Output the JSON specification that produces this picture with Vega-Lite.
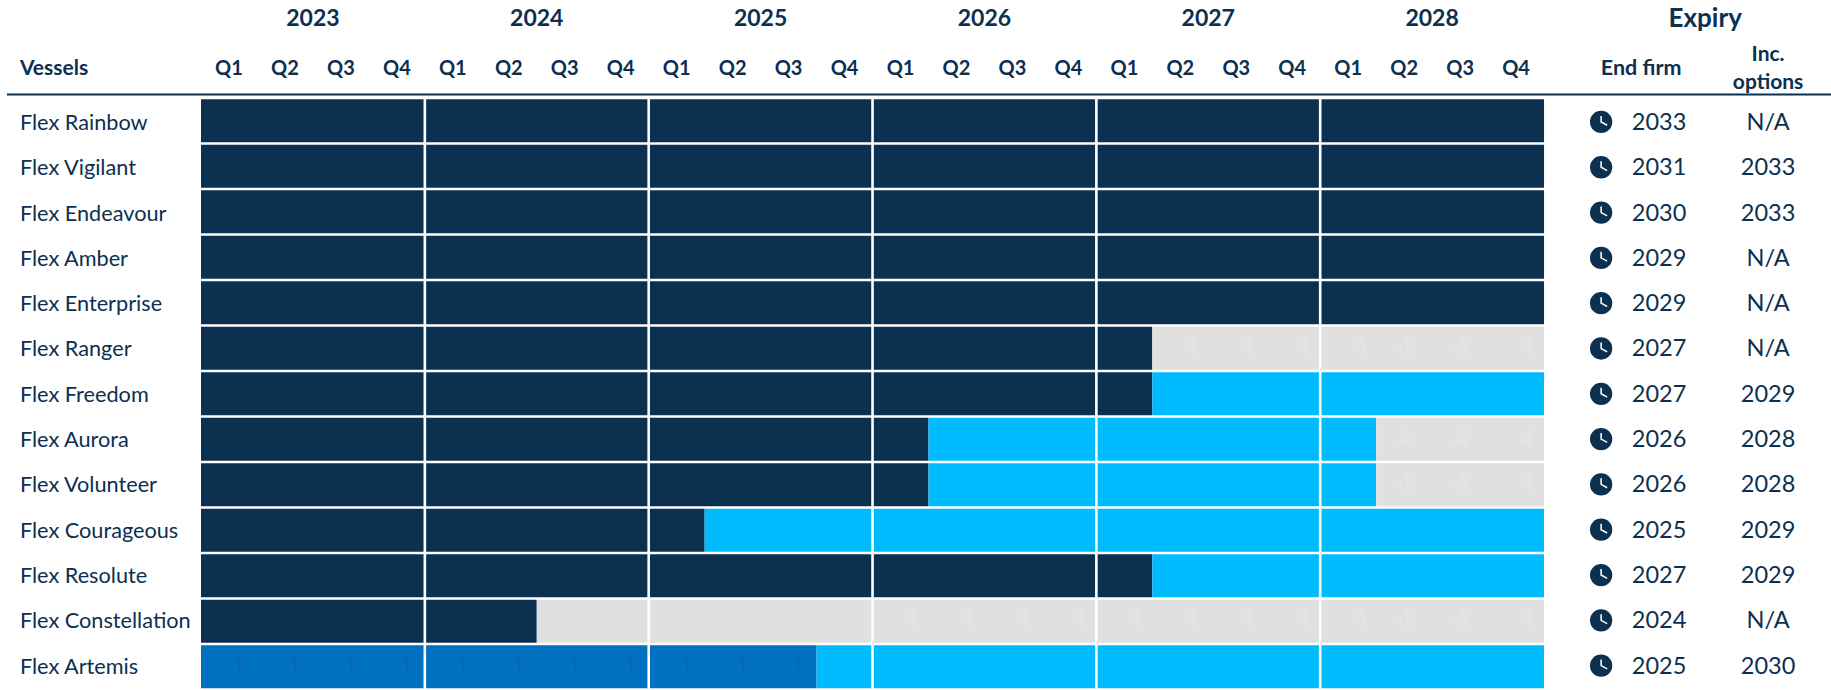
{"$schema":"https://vega.github.io/schema/vega-lite/v6.json","width":1831,"height":690,"autosize":{"type":"none"},"padding":0,"background":"white","config":{"view":{"stroke":null},"text":{"font":"Lato"}},"datasets":{"segments":[{"vessel":"Flex Rainbow","start":2023,"end":2029,"status":"firm"},{"vessel":"Flex Vigilant","start":2023,"end":2029,"status":"firm"},{"vessel":"Flex Endeavour","start":2023,"end":2029,"status":"firm"},{"vessel":"Flex Amber","start":2023,"end":2029,"status":"firm"},{"vessel":"Flex Enterprise","start":2023,"end":2029,"status":"firm"},{"vessel":"Flex Ranger","start":2023,"end":2027.25,"status":"firm"},{"vessel":"Flex Ranger","start":2027.25,"end":2029,"status":"open"},{"vessel":"Flex Freedom","start":2023,"end":2027.25,"status":"firm"},{"vessel":"Flex Freedom","start":2027.25,"end":2029,"status":"option"},{"vessel":"Flex Aurora","start":2023,"end":2026.25,"status":"firm"},{"vessel":"Flex Aurora","start":2026.25,"end":2028.25,"status":"option"},{"vessel":"Flex Aurora","start":2028.25,"end":2029,"status":"open"},{"vessel":"Flex Volunteer","start":2023,"end":2026.25,"status":"firm"},{"vessel":"Flex Volunteer","start":2026.25,"end":2028.25,"status":"option"},{"vessel":"Flex Volunteer","start":2028.25,"end":2029,"status":"open"},{"vessel":"Flex Courageous","start":2023,"end":2025.25,"status":"firm"},{"vessel":"Flex Courageous","start":2025.25,"end":2029,"status":"option"},{"vessel":"Flex Resolute","start":2023,"end":2027.25,"status":"firm"},{"vessel":"Flex Resolute","start":2027.25,"end":2029,"status":"option"},{"vessel":"Flex Constellation","start":2023,"end":2024.5,"status":"firm"},{"vessel":"Flex Constellation","start":2024.5,"end":2029,"status":"open"},{"vessel":"Flex Artemis","start":2023,"end":2025.75,"status":"other"},{"vessel":"Flex Artemis","start":2025.75,"end":2029,"status":"option"}],"expiry":[{"vessel":"Flex Rainbow","endFirm":"2033","incOptions":"N/A"},{"vessel":"Flex Vigilant","endFirm":"2031","incOptions":"2033"},{"vessel":"Flex Endeavour","endFirm":"2030","incOptions":"2033"},{"vessel":"Flex Amber","endFirm":"2029","incOptions":"N/A"},{"vessel":"Flex Enterprise","endFirm":"2029","incOptions":"N/A"},{"vessel":"Flex Ranger","endFirm":"2027","incOptions":"N/A"},{"vessel":"Flex Freedom","endFirm":"2027","incOptions":"2029"},{"vessel":"Flex Aurora","endFirm":"2026","incOptions":"2028"},{"vessel":"Flex Volunteer","endFirm":"2026","incOptions":"2028"},{"vessel":"Flex Courageous","endFirm":"2025","incOptions":"2029"},{"vessel":"Flex Resolute","endFirm":"2027","incOptions":"2029"},{"vessel":"Flex Constellation","endFirm":"2024","incOptions":"N/A"},{"vessel":"Flex Artemis","endFirm":"2025","incOptions":"2030"}],"digits":[{"vessel":"Flex Ranger","at":2027.42,"n":"4"},{"vessel":"Flex Ranger","at":2027.67,"n":"4"},{"vessel":"Flex Ranger","at":2027.92,"n":"4"},{"vessel":"Flex Ranger","at":2028.178,"n":"4"},{"vessel":"Flex Ranger","at":2028.379,"n":"4"},{"vessel":"Flex Ranger","at":2028.63,"n":"4"},{"vessel":"Flex Ranger","at":2028.924,"n":"4"},{"vessel":"Flex Aurora","at":2028.379,"n":"4"},{"vessel":"Flex Aurora","at":2028.63,"n":"4"},{"vessel":"Flex Aurora","at":2028.924,"n":"4"},{"vessel":"Flex Volunteer","at":2028.379,"n":"4"},{"vessel":"Flex Volunteer","at":2028.63,"n":"4"},{"vessel":"Flex Volunteer","at":2028.924,"n":"4"},{"vessel":"Flex Constellation","at":2026.172,"n":"4"},{"vessel":"Flex Constellation","at":2026.42,"n":"4"},{"vessel":"Flex Constellation","at":2026.67,"n":"4"},{"vessel":"Flex Constellation","at":2026.92,"n":"4"},{"vessel":"Flex Constellation","at":2027.17,"n":"4"},{"vessel":"Flex Constellation","at":2027.42,"n":"4"},{"vessel":"Flex Constellation","at":2027.67,"n":"4"},{"vessel":"Flex Constellation","at":2027.92,"n":"4"},{"vessel":"Flex Constellation","at":2028.178,"n":"4"},{"vessel":"Flex Constellation","at":2028.379,"n":"4"},{"vessel":"Flex Constellation","at":2028.63,"n":"4"},{"vessel":"Flex Constellation","at":2028.924,"n":"4"},{"vessel":"Flex Artemis","at":2023.17,"n":"1"},{"vessel":"Flex Artemis","at":2023.42,"n":"1"},{"vessel":"Flex Artemis","at":2023.67,"n":"1"},{"vessel":"Flex Artemis","at":2023.92,"n":"1"},{"vessel":"Flex Artemis","at":2024.17,"n":"1"},{"vessel":"Flex Artemis","at":2024.42,"n":"1"},{"vessel":"Flex Artemis","at":2024.67,"n":"1"},{"vessel":"Flex Artemis","at":2024.92,"n":"1"},{"vessel":"Flex Artemis","at":2025.17,"n":"1"},{"vessel":"Flex Artemis","at":2025.42,"n":"1"},{"vessel":"Flex Artemis","at":2025.67,"n":"1"}],"heads":[{"label":"2023","at":2023.5,"row":"year"},{"label":"2024","at":2024.5,"row":"year"},{"label":"2025","at":2025.5,"row":"year"},{"label":"2026","at":2026.5,"row":"year"},{"label":"2027","at":2027.5,"row":"year"},{"label":"2028","at":2028.5,"row":"year"},{"label":"Expiry","at":2029.72,"row":"year"},{"label":"Q1","at":2023.125,"row":"col"},{"label":"Q2","at":2023.375,"row":"col"},{"label":"Q3","at":2023.625,"row":"col"},{"label":"Q4","at":2023.875,"row":"col"},{"label":"Q1","at":2024.125,"row":"col"},{"label":"Q2","at":2024.375,"row":"col"},{"label":"Q3","at":2024.625,"row":"col"},{"label":"Q4","at":2024.875,"row":"col"},{"label":"Q1","at":2025.125,"row":"col"},{"label":"Q2","at":2025.375,"row":"col"},{"label":"Q3","at":2025.625,"row":"col"},{"label":"Q4","at":2025.875,"row":"col"},{"label":"Q1","at":2026.125,"row":"col"},{"label":"Q2","at":2026.375,"row":"col"},{"label":"Q3","at":2026.625,"row":"col"},{"label":"Q4","at":2026.875,"row":"col"},{"label":"Q1","at":2027.125,"row":"col"},{"label":"Q2","at":2027.375,"row":"col"},{"label":"Q3","at":2027.625,"row":"col"},{"label":"Q4","at":2027.875,"row":"col"},{"label":"Q1","at":2028.125,"row":"col"},{"label":"Q2","at":2028.375,"row":"col"},{"label":"Q3","at":2028.625,"row":"col"},{"label":"Q4","at":2028.875,"row":"col"},{"label":"End firm","at":2029.434,"row":"col"},{"label":"Inc.\noptions","at":2030.001,"row":"col"},{"label":"Vessels","at":2022.191,"row":"col"}],"years":[{"year":2024},{"year":2025},{"year":2026},{"year":2027},{"year":2028}]},"resolve":{"scale":{"y":"independent","color":"independent"}},"layer":[{"data":{"name":"segments"},"mark":{"type":"bar"},"encoding":{"x":{"field":"start","type":"quantitative","axis":null,"scale":{"domain":[2022.102,2030.282],"nice":false,"zero":false}},"x2":{"field":"end"},"y":{"field":"vessel","type":"nominal","axis":null,"scale":{"domain":["Flex Rainbow","Flex Vigilant","Flex Endeavour","Flex Amber","Flex Enterprise","Flex Ranger","Flex Freedom","Flex Aurora","Flex Volunteer","Flex Courageous","Flex Resolute","Flex Constellation","Flex Artemis"],"range":[99.3,688.3],"paddingInner":0.056,"paddingOuter":0}},"color":{"field":"status","type":"nominal","legend":null,"scale":{"domain":["firm","option","open","other"],"range":["#0c3050","#00bcff","#e0e0e0","#0070c0"]}}}},{"data":{"name":"digits"},"mark":{"type":"text","fontSize":26,"font":"Lato","fontWeight":300},"encoding":{"x":{"field":"at","type":"quantitative"},"y":{"field":"vessel","type":"nominal","axis":null,"scale":{"domain":["Flex Rainbow","Flex Vigilant","Flex Endeavour","Flex Amber","Flex Enterprise","Flex Ranger","Flex Freedom","Flex Aurora","Flex Volunteer","Flex Courageous","Flex Resolute","Flex Constellation","Flex Artemis"],"range":[99.3,688.3],"paddingInner":0.056,"paddingOuter":0}},"text":{"field":"n"},"color":{"field":"n","type":"nominal","legend":null,"scale":{"domain":["4","1"],"range":["#e7e7e7","#1266ac"]}}}},{"data":{"name":"years"},"mark":{"type":"rule","color":"white","strokeWidth":2.6},"encoding":{"x":{"field":"year","type":"quantitative"}}},{"data":{"name":"expiry"},"layer":[{"mark":{"type":"text","fontSize":21.7,"align":"left","color":"#0c3050","dy":1},"encoding":{"x":{"datum":2022.191,"type":"quantitative"},"y":{"field":"vessel","type":"nominal","axis":null,"scale":{"domain":["Flex Rainbow","Flex Vigilant","Flex Endeavour","Flex Amber","Flex Enterprise","Flex Ranger","Flex Freedom","Flex Aurora","Flex Volunteer","Flex Courageous","Flex Resolute","Flex Constellation","Flex Artemis"],"range":[99.3,688.3],"paddingInner":0.056,"paddingOuter":0}},"text":{"field":"vessel"}}},{"mark":{"type":"text","fontSize":23.5,"color":"#0c3050","dy":1},"encoding":{"x":{"datum":2029.514,"type":"quantitative"},"y":{"field":"vessel","type":"nominal","axis":null,"scale":{"domain":["Flex Rainbow","Flex Vigilant","Flex Endeavour","Flex Amber","Flex Enterprise","Flex Ranger","Flex Freedom","Flex Aurora","Flex Volunteer","Flex Courageous","Flex Resolute","Flex Constellation","Flex Artemis"],"range":[99.3,688.3],"paddingInner":0.056,"paddingOuter":0}},"text":{"field":"endFirm"}}},{"mark":{"type":"text","fontSize":23.5,"color":"#0c3050","dy":1},"encoding":{"x":{"datum":2030.001,"type":"quantitative"},"y":{"field":"vessel","type":"nominal","axis":null,"scale":{"domain":["Flex Rainbow","Flex Vigilant","Flex Endeavour","Flex Amber","Flex Enterprise","Flex Ranger","Flex Freedom","Flex Aurora","Flex Volunteer","Flex Courageous","Flex Resolute","Flex Constellation","Flex Artemis"],"range":[99.3,688.3],"paddingInner":0.056,"paddingOuter":0}},"text":{"field":"incOptions"}}},{"mark":{"type":"point","filled":true,"shape":"circle","size":497,"color":"#0c3050","opacity":1},"encoding":{"x":{"datum":2029.255,"type":"quantitative"},"y":{"field":"vessel","type":"nominal","axis":null,"scale":{"domain":["Flex Rainbow","Flex Vigilant","Flex Endeavour","Flex Amber","Flex Enterprise","Flex Ranger","Flex Freedom","Flex Aurora","Flex Volunteer","Flex Courageous","Flex Resolute","Flex Constellation","Flex Artemis"],"range":[99.3,688.3],"paddingInner":0.056,"paddingOuter":0}}}},{"mark":{"type":"point","filled":true,"shape":"M -0.07 -0.55 L 0.07 -0.55 L 0.07 -0.04 L 0.58 0.24 L 0.52 0.36 L -0.07 0.04 Z","size":484,"color":"white","opacity":1},"encoding":{"x":{"datum":2029.255,"type":"quantitative"},"y":{"field":"vessel","type":"nominal","axis":null,"scale":{"domain":["Flex Rainbow","Flex Vigilant","Flex Endeavour","Flex Amber","Flex Enterprise","Flex Ranger","Flex Freedom","Flex Aurora","Flex Volunteer","Flex Courageous","Flex Resolute","Flex Constellation","Flex Artemis"],"range":[99.3,688.3],"paddingInner":0.056,"paddingOuter":0}}}}]},{"data":{"name":"heads"},"transform":[{"filter":"datum.row === 'year'"}],"mark":{"type":"text","fontWeight":"bold","color":"#0c3050"},"encoding":{"x":{"field":"at","type":"quantitative"},"y":{"field":"row","type":"nominal","axis":null,"scale":{"type":"point","domain":["year","col"],"range":[18.5,69],"padding":0}},"text":{"field":"label"},"size":{"condition":{"test":"datum.label === 'Expiry'","value":26},"value":23}}},{"data":{"name":"heads"},"transform":[{"filter":"test(/^Q/, datum.label)"}],"mark":{"type":"text","fontSize":20,"fontWeight":"bold","color":"#0c3050"},"encoding":{"x":{"field":"at","type":"quantitative"},"y":{"field":"row","type":"nominal","axis":null,"scale":{"type":"point","domain":["year","col"],"range":[18.5,69],"padding":0}},"text":{"field":"label"}}},{"data":{"name":"heads"},"transform":[{"filter":"datum.label === 'End firm'"}],"mark":{"type":"text","fontSize":21.5,"fontWeight":"bold","color":"#0c3050"},"encoding":{"x":{"field":"at","type":"quantitative"},"y":{"field":"row","type":"nominal","axis":null,"scale":{"type":"point","domain":["year","col"],"range":[18.5,69],"padding":0}},"text":{"field":"label"}}},{"data":{"name":"heads"},"transform":[{"filter":"test(/^Inc/, datum.label)"}],"mark":{"type":"text","fontSize":21,"fontWeight":"bold","color":"#0c3050","lineBreak":"\n","lineHeight":28,"dy":-14},"encoding":{"x":{"field":"at","type":"quantitative"},"y":{"field":"row","type":"nominal","axis":null,"scale":{"type":"point","domain":["year","col"],"range":[18.5,69],"padding":0}},"text":{"field":"label"}}},{"data":{"name":"heads"},"transform":[{"filter":"datum.label === 'Vessels'"}],"mark":{"type":"text","fontSize":21,"fontWeight":"bold","color":"#0c3050","align":"left"},"encoding":{"x":{"field":"at","type":"quantitative"},"y":{"field":"row","type":"nominal","axis":null,"scale":{"type":"point","domain":["year","col"],"range":[18.5,69],"padding":0}},"text":{"field":"label"}}},{"data":{"values":[{"from":2022.133,"to":2030.282,"row":"col"}]},"mark":{"type":"rule","color":"#0c3050","strokeWidth":2,"yOffset":25.5},"encoding":{"x":{"field":"from","type":"quantitative"},"x2":{"field":"to"},"y":{"field":"row","type":"nominal","axis":null,"scale":{"type":"point","domain":["year","col"],"range":[18.5,69],"padding":0}}}}]}
